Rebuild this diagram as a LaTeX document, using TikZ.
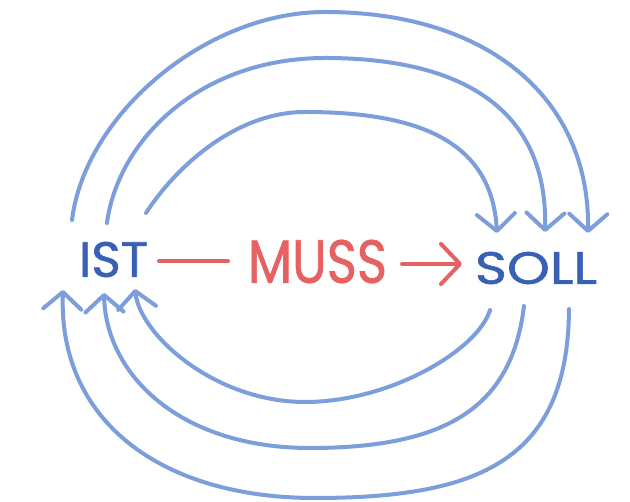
\documentclass[tikz,border=0pt]{standalone}
\usepackage{fontspec}
\usepackage{graphicx}
\usetikzlibrary{arrows.meta}
\newfontfamily\hand[FakeBold=1.2]{Poppins}

\definecolor{arcblue}{RGB}{124,158,218}
\definecolor{inkblue}{RGB}{56,96,180}
\definecolor{inkred}{RGB}{230,98,98}

\tikzset{
  word/.style={inner sep=0pt, outer sep=0pt, font=\hand},
  loopline/.style={draw=arcblue, line width=4pt, line cap=round,
    -{Straight Barb[length=17pt, width=38pt, round]}},
  redline/.style={draw=inkred, line width=4pt, line cap=round},
}

\begin{document}
\begin{tikzpicture}[x=1pt, y=1pt]
  \useasboundingbox (0,0) rectangle (630,502);
  \fill[white] (0,0) rectangle (630,502);

  % the three words
  \node[word, text=inkblue] (ist)  at (113.5,242.5) {\resizebox{69pt}{35pt}{IST}};
  \node[word, text=inkred]  (muss) at (317.5,240.5) {\resizebox{139pt}{43pt}{MUSS}};
  \node[word, text=inkblue] (soll) at (536,234)     {\resizebox{122pt}{32pt}{SOLL}};

  % IST -- MUSS -> SOLL
  \draw[redline] ([xshift=11pt]ist.east |- 0,241) -- ([xshift=-20pt]muss.west |- 0,241);
  \draw[redline, -{Straight Barb[length=19pt, width=40pt, round]}]
    ([xshift=15pt]muss.east |- 0,238) -- ([xshift=-13pt]soll.west |- 0,238);

  % end points of the loops
  \coordinate (t1a) at (146,289); \coordinate (t1p) at (305,390); \coordinate (t1b) at (497,269);
  \coordinate (t2a) at (107,279); \coordinate (t2p) at (325,444); \coordinate (t2b) at (545,270);
  \coordinate (t3a) at (72,282);  \coordinate (t3p) at (325,490); \coordinate (t3b) at (588,269);
  \coordinate (b1a) at (490,192); \coordinate (b1p) at (305,100); \coordinate (b1b) at (135,213);
  \coordinate (b2a) at (524,196); \coordinate (b2p) at (310,54);  \coordinate (b2b) at (104,209);
  \coordinate (b3a) at (569,193); \coordinate (b3p) at (315,4);   \coordinate (b3b) at (63,212);

  % loops over the top: IST -> SOLL
  \draw[loopline] (t1a) .. controls (175,334) and (235,390) .. (t1p)
                        .. controls (425,390) and (492,357) .. (t1b);
  \draw[loopline] (t2a) .. controls (118,362) and (200,444) .. (t2p)
                        .. controls (470,444) and (548,387) .. (t2b);
  \draw[loopline] (t3a) .. controls (85,387) and (205,490) .. (t3p)
                        .. controls (490,490) and (590,402) .. (t3b);

  % loops underneath: SOLL -> IST
  \draw[loopline] (b1a) .. controls (478,152) and (390,100) .. (b1p)
                        .. controls (215,100) and (140,167) .. (b1b);
  \draw[loopline] (b2a) .. controls (512,97) and (450,54) .. (b2p)
                        .. controls (180,54) and (106,127) .. (b2b);
  \draw[loopline] (b3a) .. controls (568,42) and (480,4) .. (b3p)
                        .. controls (160,4) and (58,82) .. (b3b);
\end{tikzpicture}
\end{document}
